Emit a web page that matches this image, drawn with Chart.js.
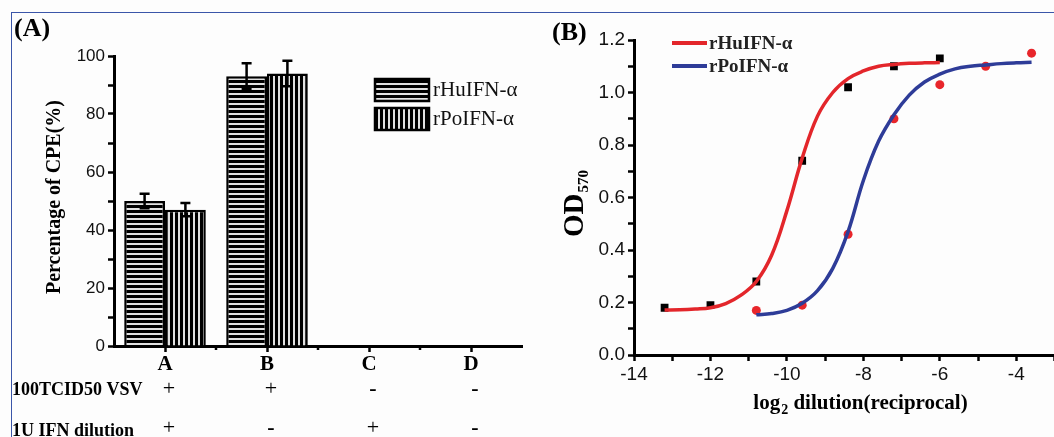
<!DOCTYPE html>
<html>
<head>
<meta charset="utf-8">
<script src="https://cdn.jsdelivr.net/npm/chart.js@4.4.1/dist/chart.umd.min.js"></script>
<style>
  html, body { margin:0; padding:0; background:#fdfdfd; overflow:hidden; width:1054px; height:437px; }
  #frame { position:absolute; left:11px; top:12px; width:1100px; height:500px; border-left:1px solid #3b56a9; border-top:1px solid #3b56a9; }
  #boxA { position:absolute; left:0; top:0; }
  #boxB { position:absolute; left:540px; top:0; }
</style>
</head>
<body>
<div id="frame"></div>
<div id="boxA"><canvas id="chartA" width="540" height="437"></canvas></div>
<div id="boxB"><canvas id="chartB" width="520" height="437"></canvas></div>

<script>
// ---- panel A data ----
var groups = ['A', 'B', 'C', 'D'];
var huCPE = [50, 93, 0, 0];
var huErr = [2.5, 4.5, 0, 0];
var poCPE = [47, 94, 0, 0];
var poErr = [2.3, 4.4, 0, 0];
var vsvRow = ['+', '+', '-', '-'];
var ifnRow = ['+', '-', '+', '-'];

// ---- panel B data ----
var huDilution = [-13.2, -12, -10.8, -9.6, -8.4, -7.2, -6];
var huOD = [0.18, 0.19, 0.28, 0.74, 1.02, 1.10, 1.13];
var poDilution = [-10.8, -9.6, -8.4, -7.2, -6, -4.8, -3.6];
var poOD = [0.17, 0.19, 0.46, 0.90, 1.03, 1.10, 1.15];

// fitted curves
var huFitX = [-13.2, -12.8, -12.4, -12.0, -11.6, -11.2, -10.8, -10.4, -10.0, -9.6, -9.2, -8.8, -8.4, -8.0, -7.6, -7.2, -6.8, -6.4, -6.0];
var huFitY = [0.171, 0.172, 0.175, 0.18, 0.196, 0.228, 0.28, 0.38, 0.55, 0.75, 0.91, 1.0, 1.053, 1.082, 1.10, 1.107, 1.111, 1.113, 1.114];
var poFitX = [-10.8, -10.4, -10.0, -9.6, -9.2, -8.8, -8.4, -8.0, -7.6, -7.2, -6.8, -6.4, -6.0, -5.6, -5.2, -4.8, -4.4, -4.0, -3.6];
var poFitY = [0.153, 0.158, 0.17, 0.197, 0.245, 0.33, 0.47, 0.665, 0.815, 0.915, 0.99, 1.04, 1.07, 1.09, 1.10, 1.105, 1.11, 1.113, 1.115];

var SERIF = '"Liberation Serif", "DejaVu Serif", serif';
var SANS = '"Liberation Sans", Arial, sans-serif';

function stripes(dir) {
  var c = document.createElement('canvas');
  c.width = 5; c.height = 5;
  var g = c.getContext('2d');
  g.fillStyle = '#000';
  g.fillRect(0, 0, 5, 5);
  g.fillStyle = '#e2e2e2';
  if (dir == 'h') g.fillRect(0, 3, 5, 2);
  else g.fillRect(3, 0, 2, 5);
  return g.createPattern(c, 'repeat');
}
var hPat = stripes('h');
var vPat = stripes('v');

function pts(xs, ys) {
  var out = [];
  for (var i = 0; i < xs.length; i++) out.push({x: xs[i], y: ys[i]});
  return out;
}

// error bars, legend and labels for panel A
var decorA = {
  id: 'decorA',
  afterDatasetsDraw: function(chart) {
    var ctx = chart.ctx, y = chart.scales.y;
    var errs = [huErr, poErr];
    ctx.save();
    ctx.strokeStyle = '#000';
    ctx.lineWidth = 2.5;
    for (var d = 0; d < 2; d++) {
      var meta = chart.getDatasetMeta(d);
      var vals = chart.data.datasets[d].data;
      meta.data.forEach(function(bar, i) {
        if (!errs[d][i]) return;
        var yt = y.getPixelForValue(vals[i] + errs[d][i]);
        var yb = y.getPixelForValue(vals[i] - errs[d][i]);
        ctx.beginPath();
        ctx.moveTo(bar.x, yt); ctx.lineTo(bar.x, yb);
        ctx.moveTo(bar.x - 5, yt); ctx.lineTo(bar.x + 5, yt);
        ctx.moveTo(bar.x - 5, yb); ctx.lineTo(bar.x + 5, yb);
        ctx.stroke();
      });
    }
    ctx.restore();
  },
  afterDraw: function(chart) {
    var ctx = chart.ctx, xs = chart.scales.x;
    ctx.save();
    // minor ticks between groups
    ctx.strokeStyle = '#000';
    ctx.lineWidth = 2.5;
    var n = groups.length;
    for (var i = 1; i < n; i++) {
      var px = xs.left + i * xs.width / n;
      ctx.beginPath(); ctx.moveTo(px, xs.top); ctx.lineTo(px, xs.top + 4); ctx.stroke();
    }
    // legend
    var items = [[hPat, chart.data.datasets[0].label], [vPat, chart.data.datasets[1].label]];
    items.forEach(function(it, k) {
      var by = 79 + k * 29;
      ctx.fillStyle = it[0];
      ctx.fillRect(375, by, 54, 22);
      ctx.lineWidth = 2.5;
      ctx.strokeRect(375, by, 54, 22);
      ctx.fillStyle = '#111';
      ctx.font = '21px ' + SERIF;
      ctx.textBaseline = 'middle';
      ctx.textAlign = 'left';
      ctx.fillText(it[1], 433, by + 11);
    });
    // panel letter
    ctx.font = 'bold 26px ' + SERIF;
    ctx.fillStyle = '#000';
    ctx.fillText('(A)', 14, 29);
    // y title
    ctx.save();
    ctx.translate(55, 197);
    ctx.rotate(-Math.PI / 2);
    ctx.textAlign = 'center';
    ctx.font = 'bold 20px ' + SERIF;
    ctx.fillText('Percentage of CPE(%)', 0, 0);
    ctx.restore();
    // treatment rows
    ctx.font = 'bold 18px ' + SERIF;
    ctx.textAlign = 'left';
    ctx.fillText('100TCID50 VSV', 12, 390);
    ctx.fillText('1U IFN dilution', 12, 431);
    ctx.textAlign = 'center';
    for (var j = 0; j < n; j++) {
      var cx = xs.getPixelForTick(j) + 4;
      [[vsvRow, 389], [ifnRow, 428]].forEach(function(r) {
        var s = r[0][j];
        ctx.font = (s == '+' ? '' : 'bold ') + '22px ' + SERIF;
        ctx.fillText(s, cx, r[1]);
      });
    }
    ctx.restore();
  }
};

new Chart(document.getElementById('chartA'), {
  type: 'bar',
  data: {
    labels: groups,
    datasets: [
      { label: 'rHuIFN-\u03b1', data: huCPE, backgroundColor: hPat, borderColor: '#000', borderWidth: 2.5, borderSkipped: 'bottom' },
      { label: 'rPoIFN-\u03b1', data: poCPE, backgroundColor: vPat, borderColor: '#000', borderWidth: 2.5, borderSkipped: 'bottom' }
    ]
  },
  options: {
    responsive: false,
    animation: false,
    layout: { padding: { left: 0, right: 18, top: 56, bottom: 0 } },
    datasets: { bar: { categoryPercentage: 0.8, barPercentage: 1.0 } },
    plugins: { legend: { display: false }, tooltip: { enabled: false } },
    scales: {
      x: {
        grid: { offset: false, drawOnChartArea: false, tickLength: 6, tickColor: '#000', tickWidth: 2.5 },
        border: { color: '#000', width: 3 },
        ticks: { color: '#000', padding: 0, font: { family: SERIF, size: 21, weight: 'bold' } },
        afterFit: function(s) { s.height = 91; }
      },
      y: {
        min: 0, max: 100,
        grid: { drawOnChartArea: false, tickLength: 6, tickColor: '#000', tickWidth: 2.5 },
        border: { color: '#000', width: 3 },
        ticks: {
          stepSize: 10, padding: 3, color: '#111',
          font: { family: SANS, size: 17 },
          callback: function(v) { return v % 20 === 0 ? v : ''; }
        },
        afterFit: function(s) { s.width = 114; }
      }
    }
  },
  plugins: [decorA]
});

// legend and titles for panel B
var decorB = {
  id: 'decorB',
  afterDraw: function(chart) {
    var ctx = chart.ctx;
    ctx.save();
    ctx.fillStyle = '#000';
    ctx.textBaseline = 'middle';
    ctx.font = 'bold 26px ' + SERIF;
    ctx.fillText('(B)', 12, 33);
    // legend (the two fitted curves)
    [0, 1].forEach(function(d) {
      var ds = chart.data.datasets[d];
      var ly = 43 + d * 23;
      ctx.strokeStyle = ds.borderColor;
      ctx.lineWidth = 4;
      ctx.beginPath(); ctx.moveTo(132, ly); ctx.lineTo(167, ly); ctx.stroke();
      ctx.fillStyle = '#222';
      ctx.font = 'bold 19px ' + SERIF;
      ctx.textAlign = 'left';
      ctx.fillText(ds.label, 169, ly + 1);
    });
    // y title OD570
    ctx.save();
    ctx.translate(43, 237);
    ctx.rotate(-Math.PI / 2);
    ctx.textBaseline = 'alphabetic';
    ctx.textAlign = 'left';
    ctx.fillStyle = '#000';
    ctx.font = 'bold 29px ' + SERIF;
    ctx.fillText('OD', 0, 0);
    var w = ctx.measureText('OD').width;
    ctx.font = 'bold 15px ' + SERIF;
    ctx.fillText('570', w + 1, 5);
    ctx.restore();
    // x title
    ctx.textBaseline = 'alphabetic';
    ctx.textAlign = 'left';
    ctx.fillStyle = '#000';
    var big = 'bold 21px ' + SERIF, small = 'bold 14px ' + SERIF;
    ctx.font = big; var w1 = ctx.measureText('log').width;
    ctx.font = small; var w2 = ctx.measureText('2').width;
    ctx.font = big; var w3 = ctx.measureText(' dilution(reciprocal)').width;
    var x0 = 320 - (w1 + w2 + w3) / 2;
    ctx.fillText('log', x0, 409);
    ctx.font = small; ctx.fillText('2', x0 + w1 + 1, 414);
    ctx.font = big; ctx.fillText(' dilution(reciprocal)', x0 + w1 + w2 + 1, 409);
    ctx.restore();
  }
};

new Chart(document.getElementById('chartB'), {
  type: 'line',
  data: {
    datasets: [
      { label: 'rHuIFN-\u03b1', data: pts(huFitX, huFitY), borderColor: '#e3262b', borderWidth: 3.5, pointRadius: 0, tension: 0.4, fill: false },
      { label: 'rPoIFN-\u03b1', data: pts(poFitX, poFitY), borderColor: '#2e3c98', borderWidth: 3.5, pointRadius: 0, tension: 0.4, fill: false },
      { label: 'rHuIFN-\u03b1 data', data: pts(huDilution, huOD), showLine: false, pointStyle: 'rect', pointRadius: 5.5, pointBackgroundColor: '#000', pointBorderWidth: 0 },
      { label: 'rPoIFN-\u03b1 data', data: pts(poDilution, poOD), showLine: false, pointStyle: 'circle', pointRadius: 4.5, pointBackgroundColor: '#e8262b', pointBorderWidth: 0 }
    ]
  },
  options: {
    responsive: false,
    animation: false,
    layout: { padding: { left: 0, right: 2.5, top: 40, bottom: 0 } },
    plugins: { legend: { display: false }, tooltip: { enabled: false } },
    scales: {
      x: {
        type: 'linear', min: -14, max: -3,
        grid: { drawOnChartArea: false, tickLength: 6, tickColor: '#000', tickWidth: 2.5 },
        border: { color: '#000', width: 3 },
        ticks: {
          stepSize: 1, padding: 2, color: '#111',
          font: { family: SANS, size: 19 },
          callback: function(v) { return v % 2 === 0 ? v : ''; }
        },
        afterFit: function(s) { s.height = 82; }
      },
      y: {
        min: 0, max: 1.2,
        grid: { drawOnChartArea: false, tickLength: 6, tickColor: '#000', tickWidth: 2.5 },
        border: { color: '#000', width: 3 },
        ticks: {
          stepSize: 0.1, padding: 3, color: '#111',
          font: { family: SANS, size: 19 },
          callback: function(v) { return Math.round(v * 10) % 2 === 0 ? v.toFixed(1) : ''; }
        },
        afterFit: function(s) { s.width = 94; }
      }
    }
  },
  plugins: [decorB]
});
</script>
</body>
</html>
